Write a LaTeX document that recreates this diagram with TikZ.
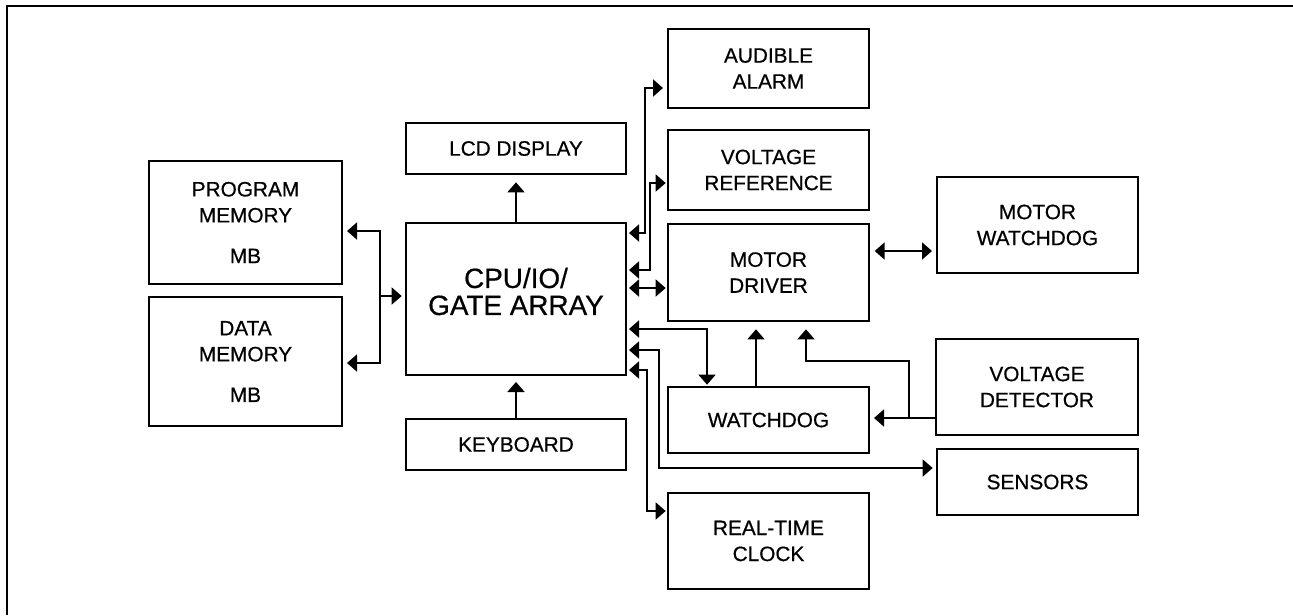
\documentclass[tikz,border=0pt]{standalone}
\usepackage{fontspec}
\setmainfont{Liberation Sans}[FakeBold=0.6]
\usetikzlibrary{arrows.meta}
\begin{document}
\begin{tikzpicture}[x=0.75pt,y=-0.75pt,
  blk/.style={draw, line width=1.5pt, inner sep=0pt, align=center,
    font=\fontsize{15.6pt}{19.5pt}\selectfont},
  sz/.style 2 args={minimum width=#1*0.75pt, minimum height=#2*0.75pt},
  conn/.style={line width=1.4pt, line join=miter},
  tipx/.tip={Triangle[length=7.5pt,width=12.75pt]},
  one/.style={conn, -tipx},
  two/.style={conn, tipx-tipx}
]
\useasboundingbox (0,0) rectangle (1293,615);
\draw[line width=1.8pt] (7,615) -- (7,6) -- (1293,6);

% boxes
\node[blk, sz={193}{123}] (pm) at (245.5,222.5) {PROGRAM\\MEMORY\\[11pt]MB};
\node[blk, sz={193}{129}] (dm) at (245.5,361.5) {DATA\\MEMORY\\[11pt]MB};
\node[blk, sz={220}{51}] (lcd) at (516,148.5) {LCD DISPLAY};
\node[blk, sz={220}{152}] (cpu) at (516,299) {};
\node[align=center, inner sep=0pt, font=\fontsize{20.9pt}{20.25pt}\selectfont] (cputxt) at (516,291.5) {CPU/IO/\\GATE ARRAY};
\node[blk, sz={220}{51}] (kb) at (516,444.5) {KEYBOARD};
\node[blk, sz={201}{79}] (aa) at (768.5,68.5) {AUDIBLE\\ALARM};
\node[blk, sz={201}{80}] (vr) at (768.5,170) {VOLTAGE\\REFERENCE};
\node[blk, sz={201}{97}] (md) at (768.5,272.5) {MOTOR\\DRIVER};
\node[blk, sz={201}{66}] (wd) at (768.5,420) {WATCHDOG};
\node[blk, sz={201}{96}] (rtc) at (768.5,541) {REAL-TIME\\CLOCK};
\node[blk, sz={201}{96}] (mw) at (1037.5,225) {MOTOR\\WATCHDOG};
\node[blk, sz={202}{96}] (vd) at (1037,387) {VOLTAGE\\DETECTOR};
\node[blk, sz={201}{66}] (sen) at (1037.5,482) {SENSORS};

% memory bus
\coordinate (b1) at (380,231);
\coordinate (b2) at (380,363);
\coordinate (b3) at (380,296);
\draw[two, shorten <=3pt, shorten >=3pt] (pm.east|-b1) -- (b1) -- (b2) -- (dm.east|-b2);
\draw[one, shorten >=2.5pt] (b3) -- (cpu.west|-b3);

% LCD / keyboard
\draw[one, shorten >=5.5pt] (cpu.north) -- (lcd.south);
\draw[one, shorten >=4.5pt] (kb.north) -- (cpu.south);

% right side of CPU
\coordinate (a1) at (645,233);
\coordinate (a2) at (645,88);
\draw[two, shorten <=1.5pt, shorten >=3pt] (cpu.east|-a1) -- (a1) -- (a2) -- (aa.west|-a2);
\coordinate (v1) at (650,270);
\coordinate (v2) at (650,183);
\draw[two, shorten <=1.5pt, shorten >=1pt] (cpu.east|-v1) -- (v1) -- (v2) -- (vr.west|-v2);
\coordinate (m1) at (640,288);
\draw[two, shorten <=1.5pt, shorten >=1pt] (cpu.east|-m1) -- (md.west|-m1);
\coordinate (w1) at (707,329);
\draw[two, shorten <=1.5pt, shorten >=1pt] (cpu.east|-w1) -- (w1) -- (w1|-wd.north);
\coordinate (s1) at (659,350);
\coordinate (s2) at (659,468);
\draw[two, shorten <=1.5pt, shorten >=2.5pt] (cpu.east|-s1) -- (s1) -- (s2) -- (sen.west|-s2);
\coordinate (r1) at (647,370);
\coordinate (r2) at (647,511);
\draw[two, shorten <=1.5pt, shorten >=1pt] (cpu.east|-r1) -- (r1) -- (r2) -- (rtc.west|-r2);

% motor driver links
\coordinate (mw1) at (900,251);
\draw[two, shorten <=3.5pt, shorten >=3pt] (md.east|-mw1) -- (mw.west|-mw1);
\coordinate (wm) at (756,400);
\draw[one, shorten >=5.5pt] (wm|-wd.north) -- (wm|-md.south);
\coordinate (d1) at (909,418);
\coordinate (d2) at (909,361);
\coordinate (d3) at (806,361);
\draw[one, shorten >=3pt] (vd.west|-d1) -- (wd.east|-d1);
\draw[one, shorten >=5.5pt] (d1) -- (d2) -- (d3) -- (d3|-md.south);
\end{tikzpicture}
\end{document}
